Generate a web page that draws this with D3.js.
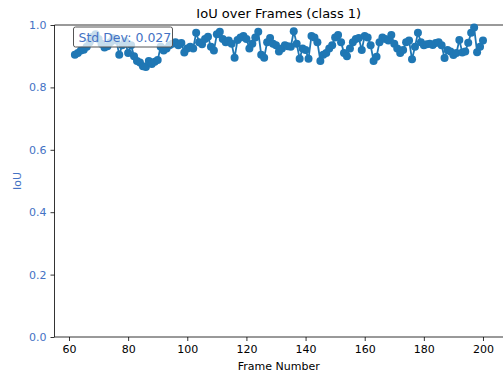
<!DOCTYPE html>
<html>
<head>
<meta charset="utf-8">
<script src="https://cdn.jsdelivr.net/npm/d3@7"></script>
<style>
  html, body { margin: 0; padding: 0; background: #fff; overflow: hidden; }
  svg { display: block; font-family: "DejaVu Sans", sans-serif; }
</style>
</head>
<body>
<div id="chart"></div>
<script>
var outerWidth = 503, outerHeight = 377

var margins = {top: 25, right: 0, bottom: 40, left: 54.5}

var innerWidth = outerWidth - margins.left - margins.right
var innerHeight = outerHeight - margins.top - margins.bottom

// frames 62..200, one IoU value each
var firstFrame = 62
var iouValues = [
  0.905, 0.910, 0.918, 0.921, 0.930, 0.945, 0.962, 0.970, 0.955, 0.940,
  0.928, 0.932, 0.945, 0.958, 0.950, 0.905, 0.935, 0.948, 0.910, 0.935,
  0.900, 0.885, 0.880, 0.868, 0.865, 0.885, 0.875, 0.882, 0.888, 0.930,
  0.918, 0.925, 0.935, 0.940, 0.945, 0.935, 0.942, 0.912, 0.925, 0.930,
  0.925, 0.975, 0.945, 0.938, 0.955, 0.962, 0.930, 0.918, 0.970, 0.978,
  0.955, 0.945, 0.950, 0.940, 0.895, 0.952, 0.960, 0.965, 0.955, 0.925,
  0.940, 0.960, 0.978, 0.905, 0.895, 0.945, 0.958, 0.940, 0.935, 0.915,
  0.925, 0.935, 0.932, 0.930, 0.980, 0.940, 0.892, 0.925, 0.920, 0.892,
  0.965, 0.960, 0.945, 0.885, 0.905, 0.910, 0.925, 0.935, 0.960, 0.968,
  0.945, 0.910, 0.900, 0.925, 0.945, 0.955, 0.958, 0.920, 0.965, 0.960,
  0.935, 0.885, 0.898, 0.945, 0.960, 0.955, 0.950, 0.968, 0.940, 0.925,
  0.910, 0.920, 0.945, 0.950, 0.890, 0.930, 0.975, 0.945, 0.935, 0.938,
  0.940, 0.936, 0.942, 0.945, 0.935, 0.894, 0.920, 0.915, 0.904, 0.910,
  0.952, 0.912, 0.915, 0.943, 0.975, 0.992, 0.913, 0.930, 0.950
]
var xTicks = [60, 80, 100, 120, 140, 160, 180, 200]
var yTicks = [0.0, 0.2, 0.4, 0.6, 0.8, 1.0]
var stdText = "Std Dev: 0.027"

var data = iouValues.map(function(v, i) { return {frame: firstFrame + i, iou: v} })

var svg = d3.select("#chart").append("svg")
    .attr("width", outerWidth)
    .attr("height", outerHeight)

var plot = svg.append("g")
    .attr("transform", "translate(" + margins.left + "," + margins.top + ")")

var pad = (200 - firstFrame) * 0.05
var xScale = d3.scaleLinear().domain([firstFrame - pad, 200 + pad]).range([0, innerWidth + 0.4])
var yScale = d3.scaleLinear().domain([0, 1]).range([innerHeight, 0])

var labelBlue = "#4472c4"
var lineBlue = "#1f77b4"

// axes
var xAxis = plot.append("g")
    .attr("transform", "translate(0," + innerHeight + ")")
    .call(d3.axisBottom(xScale).tickValues(xTicks).tickSize(4).tickPadding(4).tickFormat(d3.format("d")))
    .attr("font-family", null)
xAxis.selectAll("text").attr("font-size", "11px").attr("fill", "#000")

var yAxis = plot.append("g")
    .call(d3.axisLeft(yScale).tickValues(yTicks).tickSize(4).tickPadding(4).tickFormat(d3.format(".1f")))
    .attr("font-family", null)
yAxis.selectAll("text").attr("font-size", "11px").attr("fill", labelBlue)

plot.selectAll(".domain").remove()
plot.selectAll(".tick line").attr("stroke", "#000").attr("stroke-width", 0.8)

// spines (right one falls just past the picture edge)
plot.append("path")
    .attr("d", "M" + (innerWidth + 1) + ",0H0V" + innerHeight + "H" + (innerWidth + 1))
    .attr("fill", "none").attr("stroke", "#000").attr("stroke-width", 0.8)

// line + markers
var line = d3.line()
    .x(function(d) { return xScale(d.frame) })
    .y(function(d) { return yScale(d.iou) })

plot.append("path")
    .datum(data)
    .attr("d", line)
    .attr("fill", "none")
    .attr("stroke", lineBlue)
    .attr("stroke-width", 1.8)

plot.selectAll("circle.pt")
    .data(data)
    .enter()
    .append("circle")
    .attr("class", "pt")
    .attr("cx", function(d) { return xScale(d.frame) })
    .attr("cy", function(d) { return yScale(d.iou) })
    .attr("r", 4)
    .attr("fill", lineBlue)

// std dev box
var box = plot.append("g").attr("transform", "translate(19,2)")
box.append("rect")
    .attr("x", 0).attr("y", 0)
    .attr("width", 99).attr("height", 20)
    .attr("rx", 2)
    .attr("fill", "#fff").attr("fill-opacity", 0.75)
    .attr("stroke", "#555").attr("stroke-width", 1)
box.append("text")
    .attr("x", 5).attr("y", 15)
    .attr("font-size", "12.5px")
    .attr("fill", labelBlue)
    .text(stdText)

// titles
svg.append("text")
    .attr("x", margins.left + innerWidth / 2)
    .attr("y", 18)
    .attr("text-anchor", "middle")
    .attr("font-size", "13px")
    .text("IoU over Frames (class 1)")

svg.append("text")
    .attr("x", margins.left + innerWidth / 2)
    .attr("y", 370)
    .attr("text-anchor", "middle")
    .attr("font-size", "11px")
    .text("Frame Number")

svg.append("text")
    .attr("transform", "translate(21," + (margins.top + innerHeight / 2) + ") rotate(-90)")
    .attr("text-anchor", "middle")
    .attr("font-size", "11px")
    .attr("fill", labelBlue)
    .text("IoU")
</script>
</body>
</html>
